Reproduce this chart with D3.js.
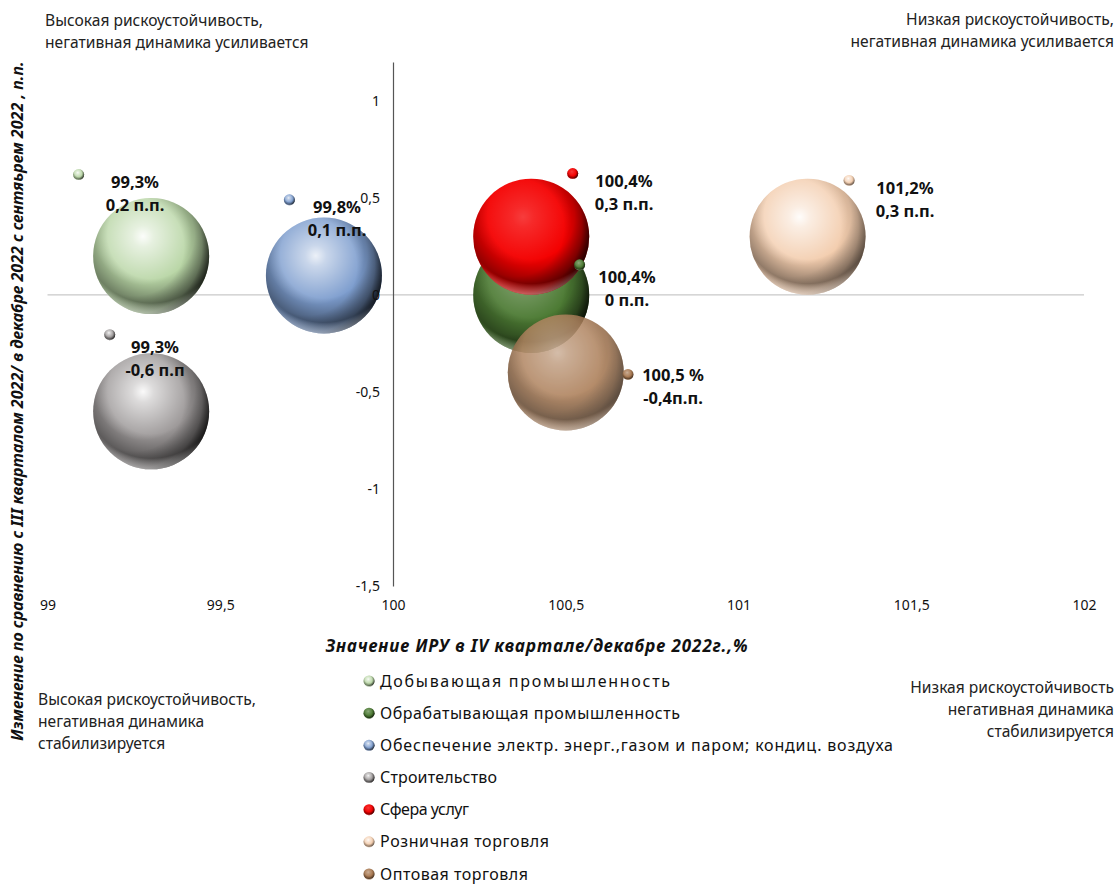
<!DOCTYPE html>
<html>
<head>
<meta charset="utf-8">
<script src="https://cdn.jsdelivr.net/npm/d3@7"></script>
<style>
html, body { margin: 0; padding: 0; background: #fff; }
text { font-family: "Noto Sans", sans-serif; fill: #111; }
.note { font-size: 15.6px; fill: #222; }
.tick text { font-size: 14px; fill: #111; }
.lab { font-size: 16.5px; font-weight: bold; }
.legend-text { font-size: 16px; }
.title { font-weight: bold; font-style: italic; }
</style>
</head>
<body>
<svg width="1118" height="884"></svg>
<script>
const categories = ["Добывающая промышленность", "Обрабатывающая промышленность",
  "Обеспечение электр. энерг.,газом и паром; кондиц. воздуха", "Строительство",
  "Сфера услуг", "Розничная торговля", "Оптовая торговля"];
const iruValues = [99.3, 100.4, 99.8, 99.3, 100.4, 101.2, 100.5];
const changeValues = [0.2, 0, 0.1, -0.6, 0.3, 0.3, -0.4];
// small key balls sit next to the labels
const keyX = [99.09, 100.54, 99.7, 99.18, 100.52, 101.32, 100.68];
const keyY = [0.62, 0.155, 0.49, -0.205, 0.625, 0.59, -0.41];
const labelLines = [["99,3%", "0,2 п.п."], ["100,4%", "0 п.п."], ["99,8%", "0,1 п.п."],
  ["99,3%", "-0,6 п.п"], ["100,4%", "0,3 п.п."], ["101,2%", "0,3 п.п."], ["100,5 %", "-0,4п.п."]];
const colors = ["#b9d6a6", "#4c7a33", "#7d9dce", "#9c9898", "#f40000", "#f3cdae", "#a87850"];
const xTicks = [99, 99.5, 100, 100.5, 101, 101.5, 102];
const yTicks = [-1.5, -1, -0.5, 0, 0.5, 1];

// label centres, px
const labelPos = [[135, 182], [627, 277], [337, 207], [155, 347], [624, 181], [905, 188], [673, 375]];
// legend line widths, px
const legendWidths = [290, 300, 513, 117, 89, 169, 148];
// how strong highlight and edge shadow are per series
const shineStrength = [1, 0.4, 0.9, 1, 0.25, 1, 0.45];
const shadeStrength = [1, 1, 1, 1, 1, 0.55, 0.5];

const svg = d3.select("svg");
const x = d3.scaleLinear().domain([99, 102]).range([47.5, 1084]);
const y = d3.scaleLinear().domain([-1.5, 1.2]).range([586, 62]);
const R = 58;
const comma = d => String(d).replace(".", ",");

// sphere shading, one base colour + shared overlays
const defs = svg.append("defs");
function radial(id, cx, cy, r, stops) {
  const g = defs.append("radialGradient").attr("id", id)
    .attr("cx", cx).attr("cy", cy).attr("r", r);
  stops.forEach(s => g.append("stop").attr("offset", s[0])
    .attr("stop-color", s[1]).attr("stop-opacity", s[2]));
}
radial("shine", 0.43, 0.33, 0.42, [[0, "#fff", 0.95], [0.22, "#fff", 0.65], [1, "#fff", 0]]);
radial("shade", 0.36, 0.42, 0.68, [[0.62, "#000", 0], [0.85, "#000", 0.3], [1, "#000", 0.85]]);
radial("under", 0.5, 0.32, 0.68, [[0.55, "#000", 0], [0.86, "#000", 0.4], [1, "#000", 0]]);
radial("rim", 0.5, 0.25, 0.78, [[0.84, "#fff", 0], [1, "#fff", 0.5]]);

function ball(sel, r) {
  sel.append("circle").attr("r", r).attr("fill", d => d.color);
  sel.append("circle").attr("r", r).attr("fill", "url(#under)");
  sel.append("circle").attr("r", r).attr("fill", "url(#shade)").attr("opacity", d => shadeStrength[d.i]);
  sel.append("circle").attr("r", r).attr("fill", "url(#shine)").attr("opacity", d => shineStrength[d.i]);
  sel.append("circle").attr("r", r).attr("fill", "url(#rim)");
}

const rows = categories.map((name, i) => ({
  name, i, color: colors[i], x: iruValues[i], y: changeValues[i],
  kx: keyX[i], ky: keyY[i], lines: labelLines[i]
}));

// zero line goes behind the bubbles
svg.append("line").attr("x1", x(99)).attr("x2", x(102))
  .attr("y1", y(0)).attr("y2", y(0))
  .attr("stroke", "#c9c9c9").attr("stroke-width", 1.3);

svg.append("g").selectAll("g").data(rows).enter().append("g")
  .attr("transform", d => "translate(" + x(d.x) + "," + y(d.y) + ")")
  .attr("opacity", d => d.i === 6 ? 0.85 : 1)
  .call(ball, R);

// axes
const xAxis = svg.append("g").attr("transform", "translate(0," + y(-1.5) + ")")
  .call(d3.axisBottom(x).tickValues(xTicks).tickFormat(comma).tickSize(0).tickPadding(14));
xAxis.select(".domain").remove();
const yAxis = svg.append("g").attr("transform", "translate(" + x(100) + ",0)")
  .call(d3.axisLeft(y).tickValues(yTicks).tickFormat(comma).tickSize(0).tickPadding(13));
yAxis.select(".domain").attr("stroke", "#555").attr("stroke-width", 1.2);
svg.selectAll(".tick text").attr("font-family", null);

// key balls
svg.append("g").selectAll("g").data(rows).enter().append("g")
  .attr("transform", d => "translate(" + x(d.kx) + "," + y(d.ky) + ")")
  .call(ball, 5.5);

// data labels
const lab = svg.append("g").selectAll("text").data(rows).enter().append("text")
  .attr("class", "lab").attr("text-anchor", "middle");
lab.selectAll("tspan").data(d => d.lines.map((t, k) => ({ t, k, p: labelPos[d.i] })))
  .enter().append("tspan")
  .attr("x", d => d.p[0]).attr("y", d => d.p[1] + 6 + d.k * 23)
  .text(d => d.t);

// legend
const legY = d3.scalePoint().domain(categories).range([681, 874]);
const leg = svg.append("g").selectAll("g").data(rows).enter().append("g")
  .attr("transform", d => "translate(369," + legY(d.name) + ")");
leg.call(ball, 5.5);
leg.append("text").attr("class", "legend-text").attr("x", 11).attr("y", 5.5)
  .attr("textLength", d => legendWidths[d.i]).attr("lengthAdjust", "spacing")
  .text(d => d.name);

// corner notes
const notes = [
  { x: 45, y: 26, a: "start", t: ["Высокая рискоустойчивость,", "негативная динамика усиливается"] },
  { x: 1114, y: 25, a: "end", t: ["Низкая рискоустойчивость,", "негативная динамика усиливается"] },
  { x: 38, y: 705, a: "start", t: ["Высокая рискоустойчивость,", "негативная динамика", "стабилизируется"] },
  { x: 1114, y: 693, a: "end", t: ["Низкая рискоустойчивость", "негативная динамика", "стабилизируется"] }
];
notes.forEach(n => {
  n.t.forEach((s, k) => svg.append("text").attr("class", "note")
    .attr("x", n.x).attr("y", n.y + k * 22).attr("text-anchor", n.a).text(s));
});

// axis titles
svg.append("text").attr("class", "title").attr("x", 537).attr("y", 652)
  .attr("text-anchor", "middle").style("font-size", "17px").style("letter-spacing", "0.93px")
  .text("Значение ИРУ в IV квартале/декабре 2022г.,%");
svg.append("text").attr("class", "title").attr("text-anchor", "middle").style("font-size", "16.1px")
  .attr("transform", "translate(23,401) rotate(-90)")
  .text("Изменение по сравнению с III кварталом 2022/ в  декабре 2022 с  сентяьрем 2022 , п.п.");
</script>
</body>
</html>
